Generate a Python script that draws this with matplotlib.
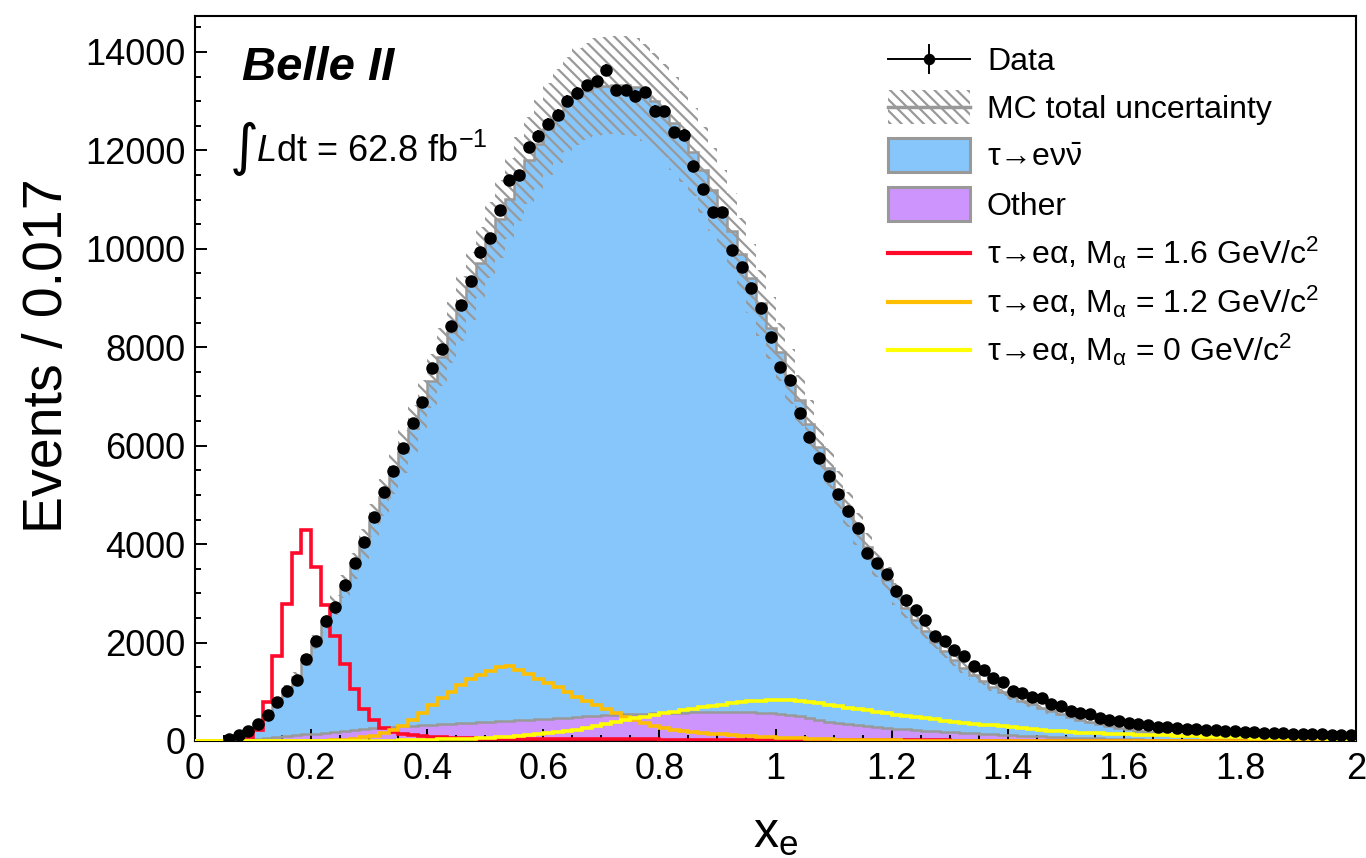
import numpy as np
import matplotlib
matplotlib.use("Agg")
import matplotlib.pyplot as plt
from matplotlib.lines import Line2D
from matplotlib.patches import Rectangle

plt.rcParams['font.family'] = ['Liberation Sans', 'DejaVu Sans']
plt.rcParams['mathtext.fontset'] = 'custom'
plt.rcParams['mathtext.rm'] = 'Liberation Sans'
plt.rcParams['mathtext.it'] = 'Liberation Sans:italic'
plt.rcParams['mathtext.bf'] = 'Liberation Sans:bold'
plt.rcParams['mathtext.fallback'] = 'stix'
plt.rcParams['hatch.linewidth'] = 1.6

# binning: 120 bins in x_e from 0 to 2
n_bins = 120
x_lo, x_hi = 0.0, 2.0

data_counts = [
    0, 0, 0, 35, 122, 203, 346, 528, 786, 1022,
    1240, 1660, 2033, 2445, 2730, 3171, 3612, 4051, 4550, 5055,
    5494, 5962, 6470, 6884, 7588, 7961, 8435, 8868, 9356, 9945,
    10213, 10793, 11402, 11504, 12059, 12297, 12541, 12724, 13008, 13165,
    13320, 13400, 13638, 13218, 13218, 13110, 13177, 12805, 12790, 12364,
    12317, 11673, 11213, 10740, 10750, 9980, 9640, 9200, 8795, 8205,
    7608, 7337, 6673, 6185, 5746, 5386, 5020, 4680, 4323, 3827,
    3612, 3388, 3055, 2866, 2663, 2459, 2134, 2033, 1850, 1728,
    1524, 1443, 1287, 1192, 1022, 982, 900, 868, 745, 717,
    610, 563, 540, 470, 430, 400, 370, 340, 315, 290,
    280, 265, 250, 235, 230, 215, 200, 195, 185, 175,
    165, 160, 155, 150, 140, 140, 135, 130, 125, 130,
]

# total MC (tau -> e nu nubar + other), stacked
mc_total = [
    0, 0, 0, 40, 120, 220, 360, 540, 790, 1050,
    1300, 1640, 2010, 2380, 2760, 3130, 3560, 4000, 4470, 4950,
    5420, 5880, 6350, 6830, 7320, 7800, 8300, 8780, 9250, 9720,
    10180, 10600, 11020, 11420, 11800, 12120, 12430, 12700, 12930, 13100,
    13200, 13280, 13310, 13330, 13320, 13280, 13180, 13010, 12800, 12550,
    12280, 11960, 11600, 11200, 10800, 10360, 9890, 9400, 8900, 8400,
    7900, 7400, 6920, 6440, 5980, 5540, 5100, 4700, 4310, 3940,
    3600, 3280, 2980, 2710, 2460, 2230, 2020, 1830, 1650, 1490,
    1350, 1220, 1100, 990, 900, 820, 750, 680, 600, 540,
    480, 430, 380, 340, 300, 265, 235, 205, 180, 160,
    140, 125, 110, 95, 85, 75, 65, 58, 52, 46,
    40, 36, 32, 28, 25, 22, 20, 18, 16, 14,
]

other_bkg = [
    0, 0, 0, 0, 10, 25, 40, 60, 80, 100,
    120, 135, 150, 165, 180, 200, 220, 240, 255, 270,
    285, 300, 310, 320, 330, 340, 350, 360, 370, 380,
    390, 400, 410, 420, 430, 445, 455, 465, 475, 490,
    500, 510, 520, 530, 540, 550, 555, 560, 565, 570,
    575, 580, 585, 590, 590, 590, 585, 580, 575, 565,
    555, 535, 500, 460, 425, 395, 365, 340, 318, 297,
    280, 265, 250, 235, 220, 205, 195, 185, 175, 165,
    155, 145, 135, 125, 118, 110, 100, 92, 85, 78,
    70, 64, 58, 52, 47, 42, 38, 34, 30, 27,
    24, 22, 20, 18, 16, 14, 13, 12, 11, 10,
    9, 8, 7, 6, 5, 5, 4, 4, 3, 3,
]

mc_rel_unc = 0.075

sig_m16 = [
    0, 0, 0, 0, 20, 88, 224, 786, 1734, 2778,
    3827, 4289, 3543, 2764, 2134, 1558, 1051, 644, 427, 258,
    176, 140, 115, 100, 90, 80, 70, 62, 55, 50,
    45, 44, 43, 42, 41, 40, 40, 39, 38, 37,
    36, 36, 35, 34, 33, 33, 32, 31, 30, 30,
    29, 28, 28, 27, 26, 26, 25, 25, 24, 24,
    23, 23, 22, 22, 21, 21, 20, 20, 20, 19,
    19, 18, 18, 17, 17, 16, 16, 15, 0, 0,
    0, 0, 0, 0, 0, 0, 0, 0, 0, 0,
    0, 0, 0, 0, 0, 0, 0, 0, 0, 0,
    0, 0, 0, 0, 0, 0, 0, 0, 0, 0,
    0, 0, 0, 0, 0, 0, 0, 0, 0, 0,
]

sig_m12 = [
    0, 0, 0, 0, 0, 0, 0, 0, 0, 0,
    0, 0, 0, 10, 20, 30, 50, 75, 110, 160,
    220, 305, 427, 563, 732, 867, 1003, 1138, 1253, 1341,
    1430, 1497, 1524, 1443, 1362, 1253, 1172, 1091, 1003, 901,
    820, 732, 644, 563, 494, 427, 359, 300, 260, 230,
    205, 185, 165, 150, 135, 120, 105, 95, 85, 75,
    65, 58, 52, 46, 40, 35, 30, 27, 24, 21,
    18, 15, 12, 10, 8, 6, 5, 0, 0, 0,
    0, 0, 0, 0, 0, 0, 0, 0, 0, 0,
    0, 0, 0, 0, 0, 0, 0, 0, 0, 0,
    0, 0, 0, 0, 0, 0, 0, 0, 0, 0,
    0, 0, 0, 0, 0, 0, 0, 0, 0, 0,
]

sig_m0 = [
    0, 0, 0, 0, 0, 0, 0, 0, 0, 0,
    0, 0, 0, 0, 0, 0, 0, 2, 4, 6,
    10, 13, 17, 21, 26, 31, 37, 43, 50, 55,
    60, 75, 88, 100, 115, 135, 155, 180, 205, 230,
    260, 300, 340, 380, 420, 460, 495, 530, 560, 595,
    630, 660, 690, 715, 740, 765, 785, 805, 820, 830,
    835, 833, 815, 795, 770, 735, 710, 680, 650, 620,
    590, 560, 528, 505, 480, 460, 440, 415, 395, 372,
    355, 335, 315, 295, 275, 257, 240, 225, 210, 195,
    180, 172, 165, 158, 150, 143, 137, 130, 124, 118,
    112, 106, 100, 95, 90, 86, 82, 78, 74, 70,
    67, 64, 61, 58, 56, 54, 52, 50, 48, 47,
]

col_nu = '#86c6fa'
col_other = '#cc94fc'
col_edge = '#999999'
col_red = '#ff0a2a'
col_orange = '#ffbf00'
col_yellow = '#ffff00'

edges = np.linspace(x_lo, x_hi, n_bins + 1)
centers = 0.5 * (edges[:-1] + edges[1:])
half_w = 0.5 * (edges[1] - edges[0])
data = np.array(data_counts, dtype=float)
mc = np.array(mc_total, dtype=float)
oth = np.array(other_bkg, dtype=float)

W, H = 1366, 858
fig = plt.figure(figsize=(W / 100, H / 100), dpi=100)
ax = fig.add_axes([195 / W, 1 - 741 / H, 1161 / W, 725 / H])


def fx(px):
    return px / W


def fy(py):
    return 1 - py / H


# stacked MC
ax.stairs(oth, edges, baseline=0, fill=True, color=col_other, zorder=1)
ax.stairs(mc, edges, baseline=oth, fill=True, color=col_nu, zorder=1)
ax.stairs(oth, edges, baseline=None, color=col_edge, lw=1.8, zorder=2)
ax.stairs(mc, edges, baseline=None, color=col_edge, lw=1.8, zorder=2)

# MC total uncertainty band
up = mc * (1 + mc_rel_unc)
dn = mc * (1 - mc_rel_unc)
ax.fill_between(edges, np.append(dn, dn[-1]), np.append(up, up[-1]), step='post',
                facecolor='none', edgecolor=col_edge, hatch='\\\\\\', linewidth=0, zorder=3)

# signal hypotheses
ax.stairs(sig_m16, edges, baseline=None, color=col_red, lw=2.6, zorder=4)
ax.stairs(sig_m12, edges, baseline=None, color=col_orange, lw=2.6, zorder=4)
ax.stairs(sig_m0, edges, baseline=None, color=col_yellow, lw=2.6, zorder=4)

# data
mask = data > 0
ax.errorbar(centers[mask], data[mask], xerr=half_w, yerr=np.sqrt(data[mask]),
            fmt='o', color='black', ms=8, lw=1.2, capsize=0, zorder=5)

ax.set_xlim(x_lo, x_hi)
ax.set_ylim(0, 14730)
ax.set_xticks(np.arange(0, 2.01, 0.2))
ax.set_xticklabels(['0', '0.2', '0.4', '0.6', '0.8', '1', '1.2', '1.4', '1.6', '1.8', '2'])
ax.set_xticks(np.arange(0, 2.01, 0.05), minor=True)
ax.set_yticks(np.arange(0, 14001, 2000))
ax.set_yticks(np.arange(0, 14700, 500), minor=True)
ax.tick_params(which='both', direction='in', width=1.4, top=False, right=False)
ax.tick_params(which='major', length=8.6, labelsize=26)
ax.tick_params(axis='x', which='major', pad=8)
ax.tick_params(axis='y', which='major', pad=7)
ax.tick_params(which='minor', length=4.3)
for s in ax.spines.values():
    s.set_linewidth(1.5)

fig.text(fx(48), fy(356), 'Events / 0.017', fontsize=40, rotation=90, ha='center', va='center')
ax.set_xlabel(r'$\mathregular{x_{e}}$', fontsize=36, labelpad=18)

fig.text(fx(242), fy(80), 'Belle II', fontsize=34, fontweight='bold', fontstyle='italic', va='baseline')
fig.text(fx(230), fy(164), '\u222b', fontsize=40, va='baseline', family='DejaVu Sans')
fig.text(fx(256), fy(162), r'$\mathit{L}$dt = 62.8 fb$^{\mathrm{-1}}$', fontsize=26, va='baseline')

# legend, drawn entry by entry
hx0, hx1, tx = 888, 970, 987
rows = [59, 107, 155, 204, 253, 302, 350]
labels = [
    'Data',
    'MC total uncertainty',
    'τ→eν$\\bar{\\mathrm{\\nu}}$',
    'Other',
    'τ→eα, M$_{\\mathrm{\\alpha}}$ = 1.6 GeV/c$^{2}$',
    'τ→eα, M$_{\\mathrm{\\alpha}}$ = 1.2 GeV/c$^{2}$',
    'τ→eα, M$_{\\mathrm{\\alpha}}$ = 0 GeV/c$^{2}$',
]
for r, lab in zip(rows, labels):
    fig.text(fx(tx), fy(r + 11), lab, fontsize=23, va='baseline')

y0 = rows[0]
fig.add_artist(Line2D([fx(hx0), fx(hx1)], [fy(y0), fy(y0)], color='black', lw=1.4))
fig.add_artist(Line2D([fx(929), fx(929)], [fy(y0 - 14), fy(y0 + 14)], color='black', lw=1.4))
fig.add_artist(Line2D([fx(929)], [fy(y0)], marker='o', color='black', ms=7.2))

y1 = rows[1]
fig.add_artist(Rectangle((fx(hx0), fy(y1 + 17)), fx(hx1 - hx0), (34 / H), facecolor='none',
                         edgecolor=col_edge, hatch='\\\\\\', linewidth=0))
fig.add_artist(Line2D([fx(hx0), fx(hx1)], [fy(y1), fy(y1)], color=col_edge, lw=2.5))

for r, c in [(rows[2], col_nu), (rows[3], col_other)]:
    fig.add_artist(Rectangle((fx(hx0), fy(r + 17)), fx(hx1 - hx0), (34 / H),
                             facecolor=c, edgecolor=col_edge, linewidth=2.2))

for r, c in [(rows[4], col_red), (rows[5], col_orange), (rows[6], col_yellow)]:
    fig.add_artist(Line2D([fx(hx0), fx(hx1)], [fy(r), fy(r)], color=c, lw=3))

fig.savefig('out.png', dpi=100)
